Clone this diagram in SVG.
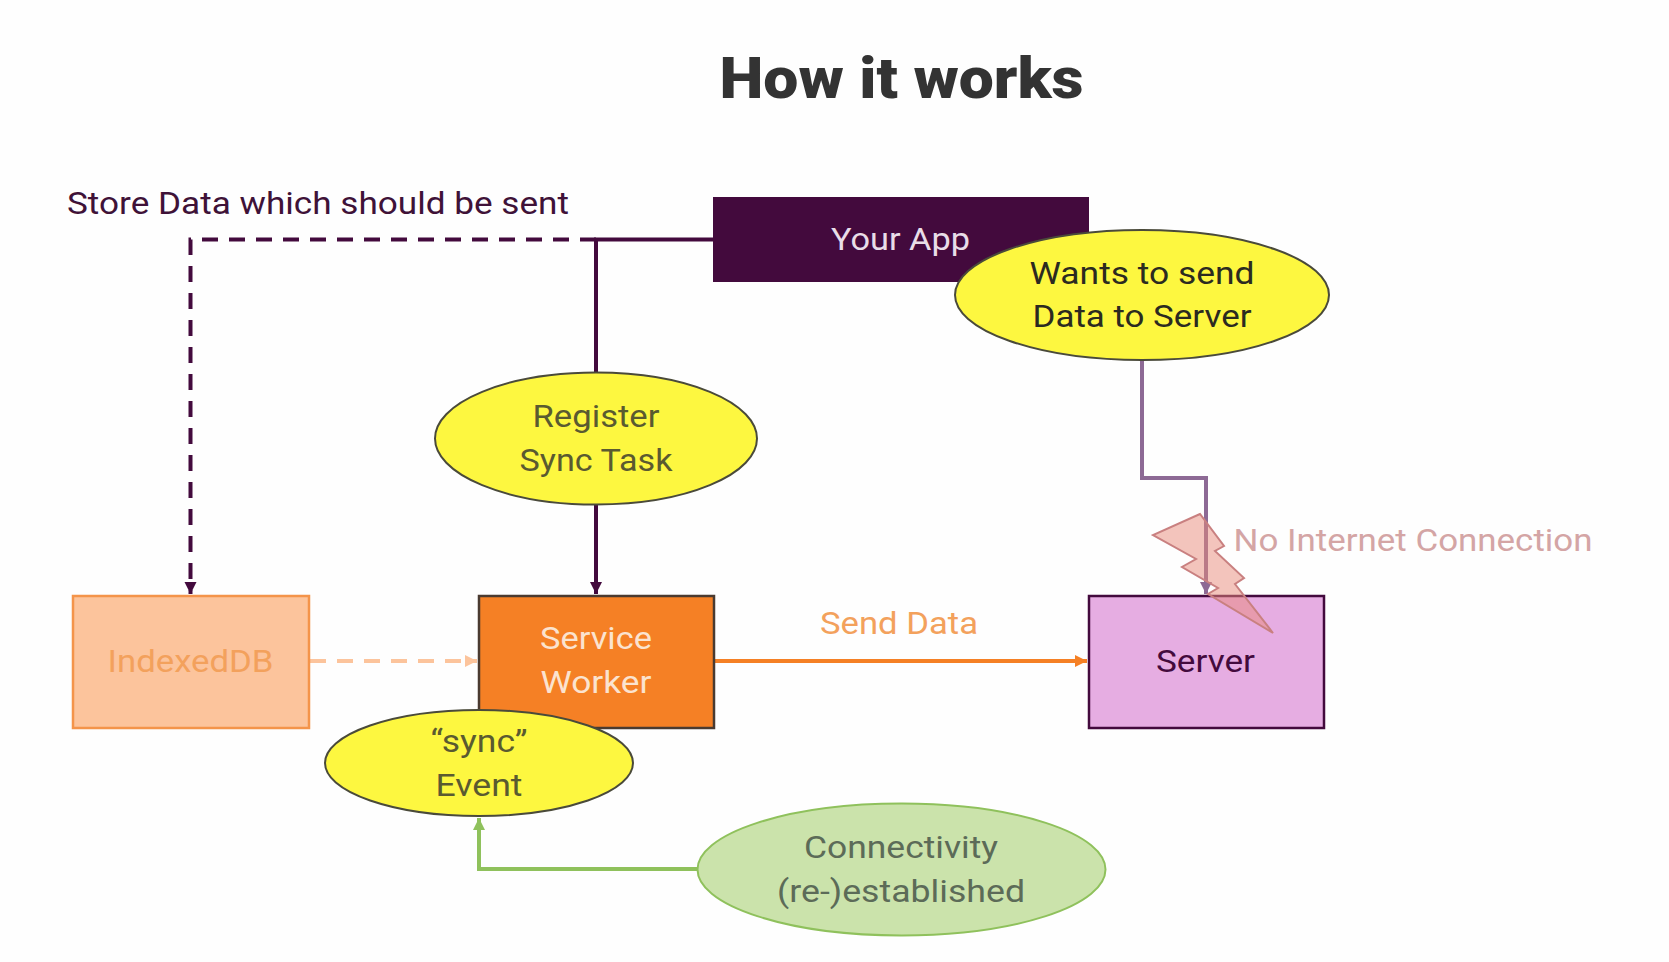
<svg xmlns="http://www.w3.org/2000/svg" width="1669" height="962" viewBox="0 0 1669 962">
<style>
text{font-family:"Roboto","Liberation Sans",sans-serif;font-size:32px;text-anchor:middle;letter-spacing:0}
.e{fill:#fdf740;stroke:#4a4a3a;stroke-width:2}
.dk{fill:#3f1238}
.or{fill:#f4a460}
.c{fill:none;stroke-linejoin:miter}
</style>
<defs>
<marker id="aP" markerUnits="userSpaceOnUse" markerWidth="14" markerHeight="14" refX="12" refY="7" orient="auto"><path d="M0 1L12 7L0 13Z" fill="#430a3d"/></marker>
<marker id="aM" markerUnits="userSpaceOnUse" markerWidth="14" markerHeight="14" refX="12" refY="7" orient="auto"><path d="M0 1L12 7L0 13Z" fill="#8d6a95"/></marker>
<marker id="aO" markerUnits="userSpaceOnUse" markerWidth="14" markerHeight="14" refX="12" refY="7" orient="auto"><path d="M0 1L12 7L0 13Z" fill="#f58025"/></marker>
<marker id="aL" markerUnits="userSpaceOnUse" markerWidth="14" markerHeight="14" refX="12" refY="7" orient="auto"><path d="M0 1L12 7L0 13Z" fill="#fcc49c"/></marker>
<marker id="aG" markerUnits="userSpaceOnUse" markerWidth="14" markerHeight="14" refX="12" refY="7" orient="auto"><path d="M0 1L12 7L0 13Z" fill="#8fc15c"/></marker>
</defs>
<rect width="1669" height="962" fill="#fefefe"/>
<text x="901.5" y="98" textLength="364" lengthAdjust="spacingAndGlyphs" style="font-size:58px;font-weight:900;fill:#333">How it works</text>
<text x="318" y="214" textLength="502" lengthAdjust="spacingAndGlyphs" class="dk">Store Data which should be sent</text>
<g id="connectors">
<path class="c" d="M713 239.5H596V372" stroke="#430a3d" stroke-width="4"/>
<path class="c" d="M596 239.5H190.5V594" stroke="#430a3d" stroke-width="4" stroke-dasharray="16 11" marker-end="url(#aP)"/>
<path class="c" d="M596 505V594" stroke="#430a3d" stroke-width="4" marker-end="url(#aP)"/>
<path class="c" d="M1142 360V478H1206V594" stroke="#8d6a95" stroke-width="4" marker-end="url(#aM)"/>
<path class="c" d="M714 661H1087" stroke="#f58025" stroke-width="4" marker-end="url(#aO)"/>
<path class="c" d="M310 661H477" stroke="#fcc49c" stroke-width="4" stroke-dasharray="16 11" marker-end="url(#aL)"/>
<path class="c" d="M697 869H479V818" stroke="#8fc15c" stroke-width="4" marker-end="url(#aG)"/>
</g>
<g id="your-app"><rect x="713" y="197" width="376" height="85" fill="#430a3d"/><text x="900.5" y="250" textLength="139" lengthAdjust="spacingAndGlyphs" fill="#e9dde8">Your App</text></g>
<g id="wants"><ellipse class="e" cx="1142" cy="295" rx="187" ry="65"/><text x="1142" y="284" textLength="225" lengthAdjust="spacingAndGlyphs" fill="#2b2a20">Wants to send</text><text x="1142" y="327" textLength="219" lengthAdjust="spacingAndGlyphs" fill="#2b2a20">Data to Server</text></g>
<g id="register"><ellipse class="e" cx="596" cy="438.5" rx="161" ry="66"/><text x="596" y="427" textLength="127" lengthAdjust="spacingAndGlyphs" fill="#5a5a30">Register</text><text x="596" y="470.5" textLength="153" lengthAdjust="spacingAndGlyphs" fill="#5a5a30">Sync Task</text></g>
<g id="indexeddb"><rect x="73" y="596" width="236" height="132" fill="#fcc49c" stroke="#f4944a" stroke-width="2.5"/><text x="190.5" y="672" textLength="166" lengthAdjust="spacingAndGlyphs" fill="#f3a15c">IndexedDB</text></g>
<g id="service-worker"><rect x="479" y="596" width="235" height="132" fill="#f58025" stroke="#4a3a30" stroke-width="2.5"/><text x="596" y="649" textLength="112" lengthAdjust="spacingAndGlyphs" fill="#fbe3cf">Service</text><text x="596" y="693" textLength="111" lengthAdjust="spacingAndGlyphs" fill="#fbe3cf">Worker</text></g>
<g id="server"><rect x="1089" y="596" width="235" height="132" fill="#e6ade2" stroke="#430a3d" stroke-width="2.5"/><text x="1205.5" y="672" textLength="99" lengthAdjust="spacingAndGlyphs" fill="#430a3d">Server</text></g>
<g id="sync"><ellipse class="e" cx="479" cy="763" rx="154" ry="53"/><text x="479" y="752" textLength="97" lengthAdjust="spacingAndGlyphs" fill="#5a5a30">“sync”</text><text x="479" y="796" textLength="87" lengthAdjust="spacingAndGlyphs" fill="#5a5a30">Event</text></g>
<g id="connectivity"><ellipse cx="901.5" cy="869.5" rx="204" ry="66" fill="#cbe3ab" stroke="#8fc15c" stroke-width="2"/><text x="901" y="858" textLength="194" lengthAdjust="spacingAndGlyphs" fill="#5c6b58">Connectivity</text><text x="901" y="901.5" textLength="248" lengthAdjust="spacingAndGlyphs" fill="#5c6b58">(re-)established</text></g>
<g id="no-internet"><path d="M1200 514L1153 535L1196 559L1182 567L1218 588L1208 594L1273 633L1235 584L1244 578L1215 551L1224 546Z" fill="#e88a7a" fill-opacity=".5" stroke="#c98080" stroke-width="2"/><text x="1413" y="551" textLength="359" lengthAdjust="spacingAndGlyphs" fill="#d4a5a5">No Internet Connection</text></g>
<text x="899" y="634" textLength="158" lengthAdjust="spacingAndGlyphs" fill="#f3a15c">Send Data</text>
</svg>
